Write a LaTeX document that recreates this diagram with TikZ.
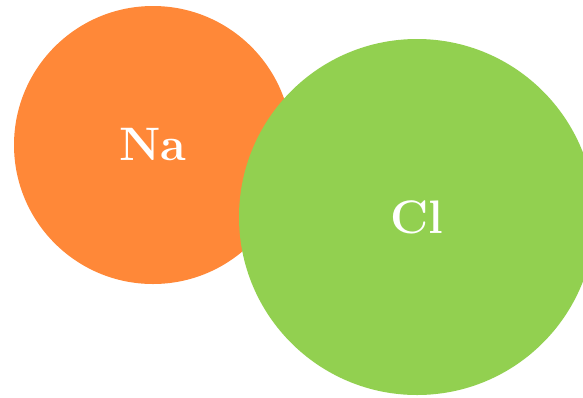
\documentclass[tikz,border=0pt]{standalone}
\definecolor{naorange}{HTML}{FF8838}
\definecolor{clgreen}{HTML}{92D050}
\begin{document}
\begin{tikzpicture}[x=1pt,y=-1pt,
  atom/.style={circle,inner sep=0pt,text=white,font=\fontsize{47}{47}\selectfont\bfseries}]
\useasboundingbox (0,0) rectangle (583,397);
\begin{scope}
\clip (0,0) rectangle (583,397);
\node[atom,fill=naorange,minimum size=278pt] (na) at (153,145) {Na};
\node[atom,fill=clgreen,minimum size=356pt] (cl) at (417,217) {Cl};
\end{scope}
\end{tikzpicture}
\end{document}
